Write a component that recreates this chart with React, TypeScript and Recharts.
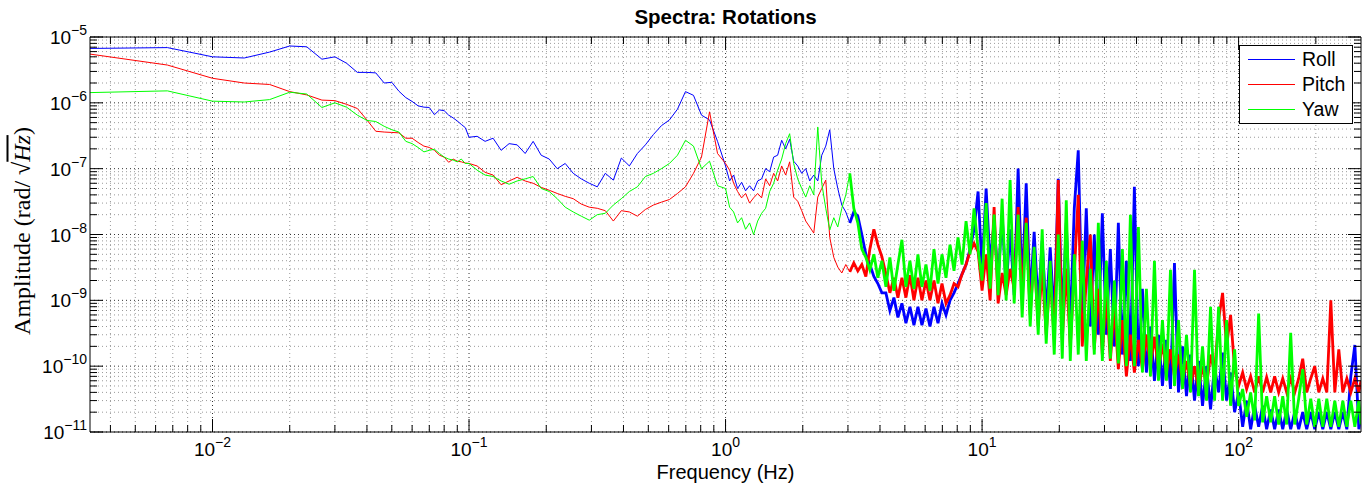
import React from 'react';
import { CartesianGrid, Legend, Line, LineChart, XAxis, YAxis } from 'recharts';

// Frequency grid (Hz) shared by the three spectra.
const FREQ_HZ = [
  0.00333, 0.00667, 0.01, 0.0133, 0.0167, 0.02, 0.0233, 0.0267, 0.03, 0.0333, 0.0367, 0.04, 0.0433, 0.0467, 0.05,
  0.0533, 0.0567, 0.06, 0.0633, 0.0667, 0.07, 0.0733, 0.0767, 0.08, 0.0833, 0.0867, 0.09, 0.0933, 0.0967,
  0.1, 0.1075, 0.1155, 0.1241, 0.1334, 0.1433, 0.154, 0.1655, 0.1778, 0.1911, 0.2054, 0.2207, 0.2371, 0.2548, 0.2738,
  0.2943, 0.3162, 0.3398, 0.3652, 0.3924, 0.4217, 0.4532, 0.487, 0.5233, 0.5623, 0.6043, 0.6494, 0.6978, 0.7499,
  0.8058, 0.866, 0.9306,
  1, 1.037, 1.075, 1.114, 1.155, 1.197, 1.241, 1.286, 1.334, 1.382, 1.433, 1.486, 1.54, 1.596, 1.655, 1.715, 1.778,
  1.843, 1.911, 1.981, 2.054, 2.129, 2.207, 2.288, 2.371, 2.458, 2.548, 2.642, 2.738, 2.839, 2.943, 3.05, 3.162,
  3.278, 3.398, 3.523, 3.652, 3.786, 3.924, 4.068, 4.217, 4.371, 4.532, 4.698, 4.87, 5.048, 5.233, 5.425, 5.623,
  5.829, 6.043, 6.264, 6.494, 6.732, 6.978, 7.234, 7.499, 7.774, 8.058, 8.354, 8.66, 8.977, 9.306, 9.647,
  10, 10.37, 10.75, 11.14, 11.55, 11.97, 12.41, 12.86, 13.34, 13.82, 14.33, 14.86, 15.4, 15.96, 16.55, 17.15, 17.78,
  18.43, 19.11, 19.81, 20.54, 21.29, 22.07, 22.88, 23.71, 24.58, 25.48, 26.42, 27.38, 28.39, 29.43, 30.5, 31.62,
  32.78, 33.98, 35.23, 36.52, 37.86, 39.24, 40.68, 42.17, 43.71, 45.32, 46.98, 48.7, 50.48, 52.33, 54.25, 56.23,
  58.29, 60.43, 62.64, 64.94, 67.32, 69.78, 72.34, 74.99, 77.74, 80.58, 83.54, 86.6, 89.77, 93.06, 96.47,
  100, 103.7, 107.5, 111.4, 115.5, 119.7, 124.1, 128.6, 133.4, 138.2, 143.3, 148.6, 154, 159.6, 165.5, 171.5, 177.8,
  184.3, 191.1, 198.1, 205.4, 212.9, 220.7, 228.8, 237.1, 245.8, 254.8, 264.2, 273.8, 283.9, 294.3, 300,
];

// Amplitudes in rad/sqrt(Hz).
const ROLL = [
  6.7e-6, 6.9e-6, 5.0e-6, 4.8e-6, 5.9e-6, 7.3e-6, 7.1e-6, 4.6e-6, 5.0e-6, 4.0e-6, 2.9e-6, 2.9e-6, 2.85e-6, 2.0e-6,
  2.05e-6, 1.5e-6, 1.2e-6, 1.05e-6, 9e-7, 8.6e-7, 8.5e-7, 6.6e-7, 7.8e-7, 7.6e-7, 6.5e-7, 5.9e-7, 5.3e-7, 4.7e-7,
  4.2e-7,
  3.0e-7, 3.1e-7, 2.6e-7, 2.9e-7, 1.9e-7, 2.4e-7, 2.3e-7, 1.7e-7, 2.6e-7, 1.6e-7, 1.4e-7, 1.0e-7, 1.2e-7, 8.5e-8,
  7.0e-8, 6.0e-8, 5.3e-8, 8.5e-8, 6.7e-8, 1.45e-7, 1.1e-7, 1.7e-7, 2.3e-7, 3.3e-7, 4.5e-7, 5.5e-7, 8e-7, 1.48e-6,
  1.3e-6, 6.5e-7, 5.5e-7, 2.6e-7,
  1.1e-7, 6.5e-8, 8e-8, 5e-8, 6.2e-8, 4.6e-8, 5.5e-8, 4.6e-8, 6.5e-8, 7e-8, 1.0e-7, 9e-8, 1.5e-7, 1.6e-7, 2.7e-7,
  2.0e-7, 2.8e-7, 1.3e-7, 1.1e-7, 8.5e-8, 1.0e-7, 6.5e-8, 8e-8, 6.5e-8, 1.6e-7, 2.2e-7, 3.9e-7, 1.0e-7, 5e-8, 2.8e-8,
  2.2e-8, 1.5e-8, 2.2e-8, 1.9e-8, 1.0e-8, 5e-9, 3.5e-9, 2.3e-9, 1.8e-9, 1.3e-9, 1.3e-9, 7e-10, 1.1e-9, 5.5e-10,
  9e-10, 4.5e-10, 8e-10, 4.2e-10, 8e-10, 4.2e-10, 7.5e-10, 4e-10, 8e-10, 4.5e-10, 9e-10, 6e-10, 1.0e-9, 1.3e-9,
  1.8e-9, 2.5e-9, 3.5e-9, 6e-9, 1.2e-8, 4.5e-8,
  3e-9, 5e-8, 3.5e-9, 1.5e-8, 2e-9, 2e-8, 1.5e-9, 1.2e-8, 1.2e-9, 1.0e-7, 1.5e-9, 6e-8, 1e-9, 1.1e-8, 8e-10, 8e-9,
  6e-10, 6.4e-9, 5e-10, 7e-8, 5e-10, 1.5e-8, 4e-10, 2.5e-8, 1.9e-7, 5e-10, 2.5e-8, 4e-10, 1e-8, 3e-10, 2.1e-8, 3e-10,
  6e-9, 2e-10, 1.5e-8, 1.5e-10, 4e-9, 1.2e-10, 5.3e-8, 1e-10, 1.5e-9, 8e-11, 4e-10, 6e-11, 3e-10, 5e-11, 2.5e-10,
  4.5e-11, 3.7e-9, 4e-11, 2e-10, 3.5e-11, 1.5e-10, 3e-11, 1.2e-10, 2.5e-11, 1e-10, 2.2e-11, 1e-10, 4e-11, 1.6e-10,
  3e-11, 8e-11, 2e-11,
  4e-11, 1.2e-11, 3e-11, 1.1e-11, 2.5e-11, 1.2e-11, 2.5e-11, 1.1e-11, 2.2e-11, 1.1e-11, 2.2e-11, 1.1e-11, 2.2e-11,
  1.1e-11, 2e-11, 1.1e-11, 2e-11, 1.1e-11, 2e-11, 1.1e-11, 2e-11, 1.1e-11, 2e-11, 1.1e-11, 2e-11, 1.1e-11, 2e-11,
  1.1e-11, 7e-11, 2.1e-10, 1.1e-11, 2e-11,
];

const PITCH = [
  5.5e-6, 3.75e-6, 2.36e-6, 2.0e-6, 1.9e-6, 1.48e-6, 1.32e-6, 1.1e-6, 1.08e-6, 9.5e-7, 8.2e-7, 5.5e-7, 3.7e-7, 3.6e-7,
  3.55e-7, 3.5e-7, 2.9e-7, 2.9e-7, 2.5e-7, 2.2e-7, 2.1e-7, 1.9e-7, 1.6e-7, 1.5e-7, 1.25e-7, 1.4e-7, 1.3e-7, 1.27e-7,
  1.22e-7,
  1.2e-7, 1.1e-7, 8.8e-8, 8e-8, 5.7e-8, 6.5e-8, 7.4e-8, 6.5e-8, 6e-8, 5.2e-8, 4.7e-8, 4.2e-8, 3.8e-8, 3.5e-8, 2.9e-8,
  2.6e-8, 2.5e-8, 2.3e-8, 1.6e-8, 2.3e-8, 2.2e-8, 1.9e-8, 2.4e-8, 2.8e-8, 3.1e-8, 3.4e-8, 4.2e-8, 5.3e-8, 8.5e-8,
  1.5e-7, 7.3e-7, 1.7e-7,
  1.2e-7, 9.5e-8, 6e-8, 4.5e-8, 3.6e-8, 4.2e-8, 3.0e-8, 3.6e-8, 4.2e-8, 3.6e-8, 7e-8, 5.5e-8, 8.5e-8, 6.5e-8, 1.1e-7,
  8e-8, 1.27e-7, 3.7e-8, 3.2e-8, 2.3e-8, 1.6e-8, 1.3e-8, 1.05e-8, 3.7e-8, 5e-8, 6.7e-8, 9e-9, 4.5e-9, 3.2e-9, 2.6e-9,
  3.5e-9, 2.7e-9, 3.7e-9, 2.8e-9, 3.5e-9, 2.3e-9, 6e-9, 1.2e-8, 7e-9, 4.6e-9, 2.5e-9, 1.3e-9, 2.2e-9, 1.1e-9, 2.2e-9,
  1.1e-9, 2.4e-9, 1.0e-9, 2.2e-9, 1.0e-9, 2e-9, 1.0e-9, 2e-9, 9e-10, 1.8e-9, 9e-10, 1.2e-9, 1.8e-9, 1.6e-9,
  2.5e-9, 3.5e-9, 5.5e-9, 7.3e-9, 5.5e-9,
  1.4e-9, 5e-9, 1e-9, 2.6e-8, 9e-10, 2.6e-9, 1.2e-9, 3e-9, 1.5e-9, 2.6e-8, 1.1e-9, 1.8e-8, 6e-10, 5e-9, 4e-10, 3e-9,
  3e-10, 2.5e-9, 2.5e-10, 6.7e-8, 2.5e-10, 3e-9, 2e-10, 2.5e-9, 4e-8, 2e-10, 2e-9, 1e-8, 1.8e-10, 1.5e-9, 1.5e-10,
  1.2e-9, 1.2e-10, 8e-10, 9e-11, 5e-10, 7e-11, 3e-10, 8e-11, 2.5e-10, 9e-11, 3e-10, 1e-10, 2.8e-10, 9e-11, 2.2e-10,
  8e-11, 1.8e-10, 7e-11, 1.5e-10, 6e-11, 1.2e-10, 5e-11, 1e-10, 4.5e-11, 1e-10, 5e-11, 1.5e-10, 8e-11, 5e-10, 1.3e-9,
  2e-10, 6e-10, 9e-11,
  5e-11, 8e-11, 4.5e-11, 7e-11, 4e-11, 7e-11, 4e-11, 6.8e-11, 4e-11, 7e-11, 4e-11, 6.5e-11, 4e-11, 6.5e-11, 4e-11,
  6.5e-11, 1.3e-10, 4e-11, 6.5e-11, 1e-10, 4e-11, 6.5e-11, 4e-11, 1e-9, 4e-11, 1.8e-10, 4e-11, 6.5e-11, 4e-11,
  6.5e-11, 4e-11, 6e-11,
];

const YAW = [
  1.43e-6, 1.52e-6, 1.06e-6, 1.03e-6, 1.12e-6, 1.45e-6, 1.36e-6, 8.5e-7, 1.0e-6, 8.6e-7, 6.5e-7, 5.4e-7, 5.2e-7,
  4.4e-7, 3.9e-7, 3.6e-7, 2.6e-7, 2.4e-7, 2.1e-7, 1.8e-7, 1.9e-7, 1.97e-7, 1.7e-7, 1.5e-7, 1.4e-7, 1.35e-7, 1.27e-7,
  1.4e-7, 1.2e-7,
  1.2e-7, 9.5e-8, 8e-8, 7.6e-8, 6.5e-8, 5.8e-8, 6.5e-8, 7.0e-8, 7.6e-8, 5.0e-8, 4.5e-8, 3.5e-8, 2.6e-8, 2.2e-8,
  1.9e-8, 1.65e-8, 2.0e-8, 2.1e-8, 2.8e-8, 3.5e-8, 4.5e-8, 5.3e-8, 7.6e-8, 8.5e-8, 1.0e-7, 1.2e-7, 1.6e-7, 2.7e-7,
  2.2e-7, 1.0e-7, 1.3e-7, 5.5e-8,
  5e-8, 2.6e-8, 2.2e-8, 1.5e-8, 1.8e-8, 1.2e-8, 1.5e-8, 1.0e-8, 1.6e-8, 2.1e-8, 2.5e-8, 4.5e-8, 6e-8, 9.5e-8, 1.4e-7,
  2.4e-7, 3.4e-7, 1.2e-7, 7e-8, 5e-8, 3.7e-8, 5.5e-8, 4e-8, 4.3e-7, 6e-8, 2.5e-8, 1.17e-8, 1.8e-8, 1.3e-8, 2.5e-8,
  4e-8, 8.5e-8, 2.5e-8, 1.5e-8, 6e-9, 4.5e-9, 2.9e-9, 5e-9, 2.2e-9, 4e-9, 1.6e-9, 4.5e-9, 1.4e-9, 3.5e-9, 8.3e-9,
  1.6e-9, 4e-9, 1.5e-9, 5e-9, 1.6e-9, 3.5e-9, 1.4e-9, 6e-9, 1.8e-9, 5e-9, 2.2e-9, 7e-9, 2.8e-9, 9e-9, 3.5e-9, 1.6e-8,
  5e-9, 2.5e-8, 6e-9,
  2e-9, 3e-8, 1.5e-9, 2e-8, 1.2e-9, 3.5e-8, 1e-9, 6.7e-8, 9e-10, 2e-8, 5.5e-10, 1.5e-8, 4e-10, 6.5e-9, 3e-10, 1.2e-8,
  2.2e-10, 4e-9, 1.5e-10, 1e-8, 1.3e-10, 3.3e-8, 1.2e-10, 5e-9, 1.5e-10, 8e-9, 1.2e-10, 3e-9, 1.5e-10, 1.5e-8,
  1.2e-10, 4e-9, 1.3e-10, 2e-9, 1.1e-10, 6e-9, 1e-10, 2e-8, 1e-10, 1.3e-8, 8e-11, 1.5e-9, 7e-11, 4e-9, 6e-11, 5e-10,
  6e-11, 2.9e-9, 5e-11, 5e-10, 4.5e-11, 3e-10, 4e-11, 2.9e-9, 3.5e-11, 2e-10, 3e-11, 8e-10, 3e-11, 8e-10, 3e-11,
  5e-10, 2.5e-11, 1.8e-10,
  2.5e-11, 4.5e-11, 1.7e-11, 4e-11, 1.5e-11, 6.3e-10, 1.4e-11, 3.5e-11, 1.4e-11, 3.5e-11, 1.3e-11, 3.5e-11, 1.3e-11,
  3.2e-10, 1.3e-11, 3.2e-11, 9e-11, 1.3e-11, 3.2e-11, 1.2e-11, 3.2e-11, 1.2e-11, 3.2e-11, 1.2e-11, 3e-11, 1.2e-11,
  3e-11, 1.2e-11, 3e-11, 1.2e-11, 3e-11, 1.3e-11,
];

const SERIES = [
  { key: 'roll', name: 'Roll', color: '#0000ff', values: ROLL },
  { key: 'pitch', name: 'Pitch', color: '#ff0000', values: PITCH },
  { key: 'yaw', name: 'Yaw', color: '#00ff00', values: YAW },
];

// Above this frequency the spectra turn into dense noise; drawn with a heavier pen.
const NOISE_FROM_HZ = 3.05;

const X_DOMAIN: [number, number] = [0.00333, 300];
const Y_DOMAIN: [number, number] = [1e-11, 1e-5];
const X_DECADES = [0.001, 0.01, 0.1, 1, 10, 100];
const Y_DECADES = [1e-11, 1e-10, 1e-9, 1e-8, 1e-7, 1e-6, 1e-5];
const STEPS = [1, 2, 3, 4, 5, 6, 7, 8, 9];

const SANS = '"Liberation Sans", Arial, Helvetica, sans-serif';
const SERIF = '"Liberation Serif", "Times New Roman", serif';

const inside = (v: number, [lo, hi]: [number, number]) => v >= lo * 0.999 && v <= hi * 1.001;
const isDecade = (v: number) => {
  const l = Math.log10(v);
  return Math.abs(l - Math.round(l)) < 1e-6;
};
const expOf = (v: number) => Math.round(Math.log10(v));

const xTicks = X_DECADES.flatMap((d) => STEPS.map((s) => d * s)).filter((v) => inside(v, X_DOMAIN) && v < 299);
const yTicks = Y_DECADES.flatMap((d) => STEPS.map((s) => d * s)).filter((v) => inside(v, Y_DOMAIN));
const xMajor = xTicks.filter(isDecade);
const xMinor = xTicks.filter((v) => !isDecade(v));
const yMajor = yTicks.filter(isDecade);
const yMinor = yTicks.filter((v) => !isDecade(v));

const rows = FREQ_HZ.map((f, i) => {
  const row: Record<string, number | null> = { f };
  SERIES.forEach((s) => {
    row[s.key] = f <= NOISE_FROM_HZ ? s.values[i] : null;
    row[s.key + 'Noise'] = f >= NOISE_FROM_HZ ? s.values[i] : null;
  });
  return row;
});

const MAJOR_LEN = 13;
const MINOR_LEN = 7;

const Power = ({ v }: { v: number }) => {
  const e = expOf(v);
  return (
    <>
      10
      <tspan dy={-9} fontSize={14}>
        {e < 0 ? '\u2212' + Math.abs(e) : String(e)}
      </tspan>
    </>
  );
};

const BottomTick = ({ x, y, payload }: any) => {
  const v = payload.value as number;
  const major = isDecade(v);
  return (
    <g>
      <line x1={x} y1={y} x2={x} y2={y - (major ? MAJOR_LEN : MINOR_LEN)} stroke="#000" />
      {major && (
        <text x={x} y={y + 24} textAnchor="middle" fontFamily={SANS} fontSize={19} fill="#000">
          <Power v={v} />
        </text>
      )}
    </g>
  );
};

const TopTick = ({ x, y, payload }: any) => (
  <line x1={x} y1={y} x2={x} y2={y + (isDecade(payload.value) ? MAJOR_LEN : MINOR_LEN)} stroke="#000" />
);

const LeftTick = ({ x, y, payload }: any) => {
  const v = payload.value as number;
  const major = isDecade(v);
  return (
    <g>
      <line x1={x} y1={y} x2={x + (major ? MAJOR_LEN : MINOR_LEN)} y2={y} stroke="#000" />
      {major && (
        <text x={x - 3} y={y + 7} textAnchor="end" fontFamily={SANS} fontSize={19} fill="#000">
          <Power v={v} />
        </text>
      )}
    </g>
  );
};

const RightTick = ({ x, y, payload }: any) => (
  <line x1={x} y1={y} x2={x - (isDecade(payload.value) ? MAJOR_LEN : MINOR_LEN)} y2={y} stroke="#000" />
);

// Legend keeps the plotting order (Roll, Pitch, Yaw) rather than Recharts' sorted payload.
const LegendBox = () => (
  <div
    style={{
      width: 114,
      height: 79,
      boxSizing: 'border-box',
      border: '1px solid #000',
      background: '#fff',
      fontFamily: SANS,
      fontSize: 19.5,
      paddingTop: 1,
    }}
  >
    {SERIES.map((s) => (
      <div key={s.key} style={{ display: 'flex', alignItems: 'center', height: 25 }}>
        <svg width={47} height={3} style={{ marginLeft: 8, display: 'block' }}>
          <line x1={0} y1={1.5} x2={47} y2={1.5} stroke={s.color} strokeWidth={1} />
        </svg>
        <span style={{ marginLeft: 7, lineHeight: '25px' }}>{s.name}</span>
      </div>
    ))}
  </div>
);

export default function App() {
  return (
    <div style={{ position: 'absolute', left: 0, top: 0, width: 1368, height: 489, background: '#fff' }}>
      <div
        style={{
          position: 'absolute',
          left: 90,
          width: 1271,
          top: 5,
          textAlign: 'center',
          fontFamily: SANS,
          fontWeight: 'bold',
          fontSize: 20.5,
          lineHeight: '24px',
        }}
      >
        Spectra: Rotations
      </div>
      <LineChart width={1368} height={489} data={rows} margin={{ top: 36, right: 6, bottom: 27, left: 0 }}>
        <CartesianGrid horizontalValues={yMinor} verticalValues={xMinor} stroke="#9a9a9a" strokeDasharray="1 3" />
        <CartesianGrid horizontalValues={yMajor} verticalValues={xMajor} stroke="#333" strokeDasharray="1 3" />
        <XAxis
          dataKey="f"
          type="number"
          scale="log"
          domain={X_DOMAIN}
          allowDataOverflow
          ticks={xTicks}
          interval={0}
          tickSize={0}
          tickMargin={0}
          tickLine={false}
          tick={<BottomTick />}
          axisLine={{ stroke: '#000' }}
          height={30}
        />
        <XAxis
          xAxisId="top"
          orientation="top"
          dataKey="f"
          type="number"
          scale="log"
          domain={X_DOMAIN}
          allowDataOverflow
          ticks={xTicks}
          interval={0}
          tickSize={0}
          tickMargin={0}
          tickLine={false}
          tick={<TopTick />}
          axisLine={{ stroke: '#000' }}
          height={1}
        />
        <YAxis
          type="number"
          scale="log"
          domain={Y_DOMAIN}
          allowDataOverflow
          ticks={yTicks}
          interval={0}
          tickSize={0}
          tickMargin={0}
          tickLine={false}
          tick={<LeftTick />}
          axisLine={{ stroke: '#000' }}
          width={90}
        />
        <YAxis
          yAxisId="right"
          orientation="right"
          type="number"
          scale="log"
          domain={Y_DOMAIN}
          allowDataOverflow
          ticks={yTicks}
          interval={0}
          tickSize={0}
          tickMargin={0}
          tickLine={false}
          tick={<RightTick />}
          axisLine={{ stroke: '#000' }}
          width={1}
        />
        {SERIES.flatMap((s) => [
          <Line
            key={s.key}
            type="linear"
            dataKey={s.key}
            name={s.name}
            stroke={s.color}
            strokeWidth={1}
            dot={false}
            isAnimationActive={false}
          />,
          <Line
            key={s.key + 'Noise'}
            type="linear"
            dataKey={s.key + 'Noise'}
            name={s.name}
            legendType="none"
            stroke={s.color}
            strokeWidth={2.8}
            dot={false}
            isAnimationActive={false}
          />,
        ])}
        <Legend
          layout="horizontal"
          verticalAlign="middle"
          align="center"
          wrapperStyle={{ position: 'absolute', left: 1239, top: 45, width: 114, height: 79 }}
          content={<LegendBox />}
        />
      </LineChart>
      <div
        style={{
          position: 'absolute',
          left: 90,
          width: 1271,
          top: 461,
          textAlign: 'center',
          fontFamily: SANS,
          fontSize: 20,
        }}
      >
        Frequency (Hz)
      </div>
      <div
        style={{
          position: 'absolute',
          left: 22,
          top: 231,
          transform: 'translate(-50%, -50%) rotate(-90deg)',
          whiteSpace: 'nowrap',
          fontFamily: SERIF,
          fontSize: 24,
        }}
      >
        Amplitude (rad/ {'\u221A'}
        <span style={{ fontStyle: 'italic', textDecoration: 'overline' }}>Hz</span>)
      </div>
    </div>
  );
}
